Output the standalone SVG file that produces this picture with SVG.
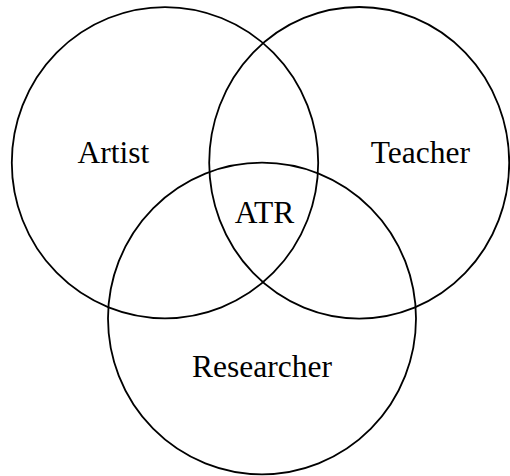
<svg xmlns="http://www.w3.org/2000/svg" width="510" height="476" viewBox="0 0 510 476">
<style>
.c{fill:none;stroke:#000;stroke-width:1.8}
.t{font-family:"Liberation Serif","Times New Roman",serif;font-size:31.5px;fill:#000;text-anchor:middle}
</style>
<rect width="510" height="476" fill="#fff"/>
<g id="artist"><ellipse class="c" cx="165" cy="162.7" rx="153.2" ry="155.6"/><text class="t" x="113.5" y="162.7">Artist</text></g>
<g id="teacher"><ellipse class="c" cx="359.2" cy="162.8" rx="150" ry="155.8"/><text class="t" x="420.3" y="162.7">Teacher</text></g>
<g id="researcher"><ellipse class="c" cx="262" cy="318.5" rx="154" ry="155.8"/><text class="t" x="262" y="376.7">Researcher</text></g>
<g id="atr"><text class="t" x="264.5" y="222.7">ATR</text></g>
<g id="connectors"></g>
</svg>
